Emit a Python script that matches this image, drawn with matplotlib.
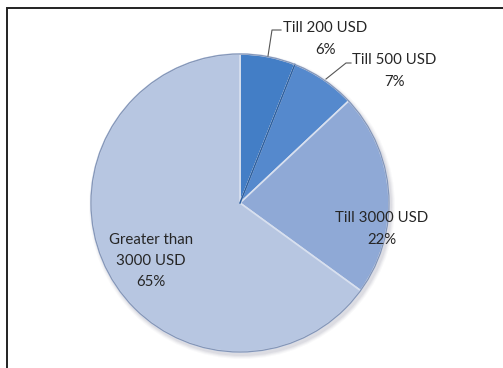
import numpy as np
import matplotlib.pyplot as plt
from matplotlib.patches import Circle, Rectangle

# parts of the budget, read clockwise from 12 o'clock
labels = ["Till 200 USD", "Till 500 USD", "Till 3000 USD", "Greater than\n3000 USD"]
parts = [6, 7, 22, 65]
colors = ["#437ec6", "#5589cd", "#8fa9d6", "#b7c6e1"]

W, H = 503, 368
fig = plt.figure(figsize=(W / 100, H / 100), dpi=100)
ax = fig.add_axes([0, 0, 1, 1])

cx, cy, r = 240, H - 203, 149

# soft shadow under the pie
for k, a in enumerate([0.06, 0.05, 0.04, 0.03]):
    ax.add_patch(Circle((cx + 2, cy - 3), r + 1 + k, color="#404060", alpha=a, lw=0, zorder=0))

wedges, _ = ax.pie(parts, colors=colors, startangle=90, counterclock=False,
                   center=(cx, cy), radius=r, frame=True,
                   wedgeprops=dict(edgecolor="#d8e0ef", linewidth=1.2))
for w in wedges:
    w.set_zorder(2)

# darker seam between the two small slices
ang = np.deg2rad(90 - 360 * parts[0] / sum(parts))
ax.plot([cx, cx + r * np.cos(ang)], [cy, cy + r * np.sin(ang)], color="#2d5f9e", lw=1.1, zorder=2.6)

# rim
ax.add_patch(Circle((cx, cy), r, fill=False, edgecolor="#8496b8", lw=0.9, zorder=3))

ax.set_xlim(0, W)
ax.set_ylim(0, H)
ax.set_aspect("equal")
ax.axis("off")

# chart frame (cut off at right and bottom)
ax.add_patch(Rectangle((7.5, -10), W, H - 7.5 + 10, fill=False, edgecolor="#222222", lw=1.4, zorder=5))

font = dict(family=["Lato", "DejaVu Sans"], fontsize=10.8, color="#262626",
            multialignment="center", linespacing=1.65)

texts = [f"{l}\n{p}%" for l, p in zip(labels, parts)]

# small slices get leader lines
ax.plot([268, 272, 281], [H - 56, H - 30, H - 30], color="#555555", lw=0.8, zorder=3)
ax.text(283, H - 39, texts[0], ha="left", va="center", **font)

ax.plot([326, 346, 351], [H - 79, H - 63, H - 63], color="#555555", lw=0.8, zorder=3)
ax.text(352, H - 71, texts[1], ha="left", va="center", **font)

ax.text(382, H - 229, texts[2], ha="center", va="center", zorder=4, **font)
ax.text(151, H - 261, texts[3], ha="center", va="center", zorder=4, **font)

fig.savefig("out.png", dpi=100)
